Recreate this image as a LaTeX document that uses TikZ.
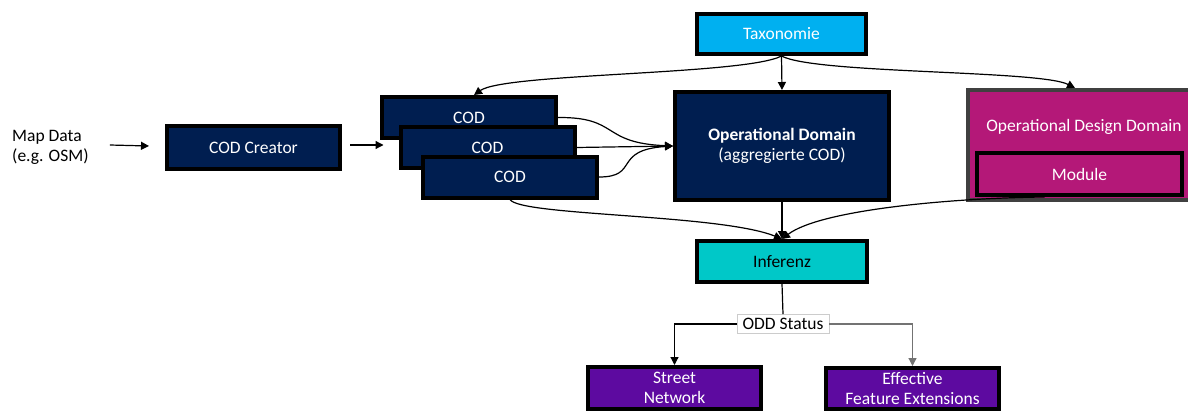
\documentclass[tikz,border=0pt]{standalone}
\usepackage{fontspec}
\setmainfont{Carlito}
\usetikzlibrary{arrows.meta}

\definecolor{navy}{RGB}{0,30,80}
\definecolor{skyblue}{RGB}{0,176,240}
\definecolor{oddmagenta}{RGB}{180,24,120}
\definecolor{oddframe}{RGB}{64,64,64}
\definecolor{teal}{RGB}{0,200,200}
\definecolor{outpurple}{RGB}{93,10,160}

\begin{document}
\begin{tikzpicture}[x=1pt,y=-1pt,
  txt/.style={font=\fontsize{17.5}{20}\selectfont, inner sep=0pt},
  box/.style={txt, rectangle, draw=black, line width=4pt, align=center, text=white},
  navybox/.style={box, fill=navy},
  arr/.style={line width=1.2pt, -{Triangle[length=8pt,width=8pt]}},
  link/.style={line width=1.2pt}]

\useasboundingbox (0,0) rectangle (1188,412);

% input text and creator
\node[txt, anchor=west, align=left] (map) at (12,147) {Map Data\\(e.g. OSM)};
\node[navybox, minimum width=173pt, minimum height=43pt] (creator) at (253.5,147.5) {COD Creator};

% stacked COD boxes
\node[navybox, minimum width=174pt, minimum height=41pt] (cod1) at (469,117.5) {COD};
\node[navybox, minimum width=174pt, minimum height=41pt] (cod2) at (487.5,147.5) {COD};
\node[navybox, minimum width=174pt, minimum height=41pt] (cod3) at (510,177) {COD};

% central column
\node[box, fill=skyblue, minimum width=169pt, minimum height=40pt] (tax) at (781.5,34) {Taxonomie};
\node[navybox, minimum width=214pt, minimum height=108pt] (od) at (782,146)
  {\textbf{Operational Domain}\\(aggregierte COD)};
\node[box, fill=teal, text=black, minimum width=170pt, minimum height=41pt] (inf) at (782,261.5) {Inferenz};

% operational design domain with its module
\node[box, draw=oddframe, fill=oddmagenta, minimum width=230pt, minimum height=110pt] (odd) at (1083,145) {};
\node[txt, text=white] (oddtitle) at (1084,127) {Operational Design Domain};
\node[box, fill=oddmagenta, minimum width=205pt, minimum height=42pt] (module) at (1079.5,174) {Module};

% outputs
\node[txt, draw=gray!40, line width=0.8pt, fill=white, minimum width=92pt, minimum height=19pt] (status) at (783,324) {ODD Status};
\node[box, fill=outpurple, minimum width=173pt, minimum height=42pt] (street) at (674.5,388) {Street\\Network};
\node[box, fill=outpurple, minimum width=173pt, minimum height=41pt] (eff) at (912.5,388.5) {Effective\\Feature Extensions};

% connectors
\draw[arr] ([xshift=21pt,yshift=2pt]map.east) -- ([xshift=-16pt,yshift=1.5pt]creator.west);
\draw[arr] ([xshift=8pt,yshift=2.5pt]creator.east) -- ([xshift=-15pt,yshift=2.5pt]cod2.west);

\draw[arr] (tax.south) -- (od.north);
\draw[arr] (tax.south) .. controls (745,75) and (505,73) .. ([xshift=5pt]cod1.north);
\draw[arr] (tax.south) .. controls (815,74) and (1040,70) .. ([xshift=-8pt]odd.north);

\draw[arr] (cod1.east) .. controls (620,117) and (600,143) .. (od.west);
\draw[arr] (cod2.east) -- (od.west);
\draw[arr] (cod3.east) .. controls (640,177) and (612,150) .. (od.west);

\draw[arr] (cod3.south) .. controls (520,216) and (720,214) .. (inf.north);
\draw[arr] (od.south) -- (inf.north);
\draw[arr] ([xshift=-35pt]module.south) .. controls (950,198) and (820,210) .. (inf.north);

\draw[link] (inf.south) -- (status.north);
\draw[arr] (status.west) -| (street.north);
\draw[arr, black!55] (status.east) -| (eff.north);

\end{tikzpicture}
\end{document}
